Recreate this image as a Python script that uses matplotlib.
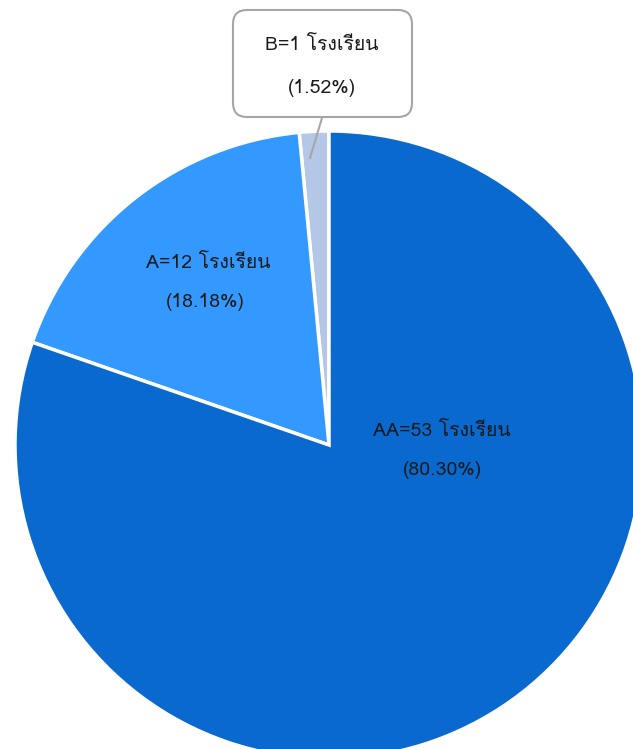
import matplotlib
matplotlib.use("Agg")
import matplotlib.pyplot as plt
from matplotlib import font_manager
from matplotlib.ft2font import FT2Font
from matplotlib.patches import FancyBboxPatch

grades = ['B', 'A', 'AA']
schools = [1, 12, 53]
colors = ['#B4C7E7', '#3399FF', '#0A69CE']
unit = 'โรงเรียน'


def thai_font():
    # look for any installed font that has Thai glyphs
    names = []
    for f in font_manager.fontManager.ttflist:
        try:
            cm = FT2Font(f.fname).get_charmap()
        except Exception:
            continue
        if 0x0E42 in cm and 0x0E23 in cm:
            names.append(f.name)
    return names


thai = thai_font()
plt.rcParams['font.family'] = thai[:1] + ['DejaVu Sans']

W, H = 633, 749
fig = plt.figure(figsize=(W / 100, H / 100), dpi=100)
ax = fig.add_axes([0, 0, 1, 1])

cx, cy, r = 329, H - 445, 314
ax.pie(schools, colors=colors, startangle=90, counterclock=True,
       center=(cx, cy), radius=r,
       wedgeprops=dict(edgecolor='white', linewidth=2.5))
ax.set_xlim(0, W)
ax.set_ylim(0, H)
ax.set_aspect('equal')
ax.axis('off')

total = sum(schools)
pct = [s / total * 100 for s in schools]
fs = 14
tc = '#1a1a1a'

# AA label
ax.text(442, H - 431, f'{grades[2]}={schools[2]} {unit}', ha='center', va='center', fontsize=fs, color=tc)
ax.text(442, H - 470, f'({pct[2]:.2f}%)', ha='center', va='center', fontsize=fs, color=tc)

# A label
ax.text(208, H - 263, f'{grades[1]}={schools[1]} {unit}', ha='center', va='center', fontsize=fs, color=tc)
ax.text(205, H - 302, f'({pct[1]:.2f}%)', ha='center', va='center', fontsize=fs, color=tc)

# B callout
box = FancyBboxPatch((233 + 14, H - 117 + 14), 179 - 28, 107 - 28,
                     boxstyle='round,pad=14', facecolor='white',
                     edgecolor='#A6A6A6', linewidth=1.5, zorder=3)
ax.add_patch(box)
ax.plot([322, 310], [H - 118, H - 158], color='#A6A6A6', linewidth=1.5, zorder=3)
ax.text(322, H - 45, f'{grades[0]}={schools[0]} {unit}', ha='center', va='center', fontsize=fs, color=tc, zorder=4)
ax.text(322, H - 88, f'({pct[0]:.2f}%)', ha='center', va='center', fontsize=fs, color=tc, zorder=4)

fig.savefig('out.png', dpi=100)
